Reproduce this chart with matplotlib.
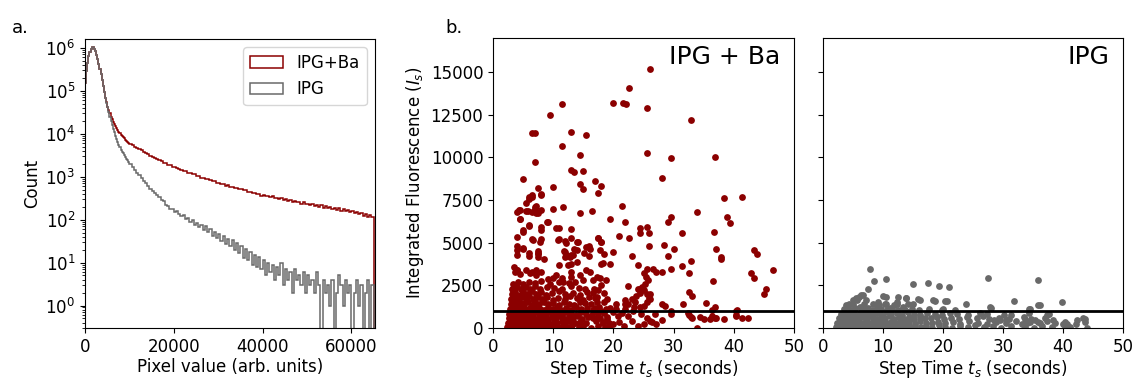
import numpy as np
import matplotlib
matplotlib.use("Agg")
import matplotlib.pyplot as plt

# ------------------------------------------------------------
# data
# ------------------------------------------------------------

# histogram bins: 250 wide up to 10000, then 500 wide up to 65000
bin_edges = np.concatenate([np.arange(0, 10000, 250), np.arange(10000, 65001, 500)])

# log10(count) per bin, IPG+Ba
ipg_ba_log = [
    5.18, 5.45, 5.65, 5.80, 5.91, 5.98, 6.02, 6.01, 5.97, 5.92,
    5.84, 5.74, 5.63, 5.51, 5.38, 5.25, 5.11, 4.97, 4.84, 4.73,
    4.63, 4.54, 4.47, 4.40, 4.34, 4.28, 4.23, 4.18, 4.13, 4.09,
    4.05, 4.02, 3.98, 3.95, 3.92, 3.89, 3.86, 3.84, 3.81, 3.79,
    3.77, 3.73, 3.70, 3.67, 3.64, 3.61, 3.58, 3.55, 3.52, 3.49,
    3.46, 3.44, 3.40, 3.38, 3.36, 3.32, 3.31, 3.27, 3.26, 3.23,
    3.22, 3.19, 3.18, 3.16, 3.13, 3.12, 3.09, 3.09, 3.05, 3.05,
    3.02, 3.01, 2.98, 2.98, 2.95, 2.94, 2.93, 2.89, 2.89, 2.86,
    2.86, 2.83, 2.83, 2.79, 2.80, 2.76, 2.77, 2.73, 2.74, 2.71,
    2.71, 2.68, 2.69, 2.65, 2.65, 2.62, 2.63, 2.59, 2.60, 2.56,
    2.58, 2.54, 2.55, 2.52, 2.54, 2.50, 2.51, 2.48, 2.50, 2.45,
    2.47, 2.44, 2.45, 2.42, 2.44, 2.40, 2.41, 2.37, 2.40, 2.36,
    2.37, 2.33, 2.36, 2.31, 2.34, 2.30, 2.33, 2.28, 2.31, 2.27,
    2.30, 2.25, 2.28, 2.23, 2.27, 2.21, 2.24, 2.19, 2.23, 2.17,
    2.21, 2.15, 2.18, 2.12, 2.16, 2.09, 2.12, 2.06, 2.10, 2.05,
]

# log10(count) per bin, IPG (None = empty bin)
ipg_log = [
    5.18, 5.45, 5.65, 5.80, 5.91, 5.98, 6.02, 6.01, 5.97, 5.92,
    5.84, 5.74, 5.63, 5.51, 5.38, 5.25, 5.11, 4.97, 4.84, 4.72,
    4.61, 4.50, 4.40, 4.30, 4.21, 4.12, 4.03, 3.95, 3.87, 3.80,
    3.74, 3.68, 3.63, 3.58, 3.54, 3.50, 3.46, 3.42, 3.38, 3.35,
    3.30, 3.22, 3.16, 3.09, 3.03, 2.97, 2.91, 2.85, 2.79, 2.72,
    2.67, 2.62, 2.57, 2.52, 2.45, 2.43, 2.33, 2.32, 2.24, 2.25,
    2.18, 2.21, 2.12, 2.08, 2.10, 2.01, 2.03, 1.95, 1.99, 1.88,
    1.92, 1.83, 1.87, 1.76, 1.84, 1.70, 1.77, 1.62, 1.72, 1.58,
    1.66, 1.50, 1.62, 1.44, 1.56, 1.38, 1.52, 1.30, 1.45, 1.22,
    1.38, 1.10, 1.32, 1.05, 1.25, 0.95, 1.18, 0.90, 1.12, 0.85,
    1.05, 0.70, 1.00, 0.78, 0.95, 0.60, 0.90, 0.70, 1.00, 0.48,
    0.85, 0.60, 0.78, 0.30, 0.85, 0.60, 0.70, 0.48, 0.78, 0.30,
    0.70, 0.48, 0.60, 0.30, 0.78, 0.48, None, 0.60, 0.30, 0.48,
    0.00, 0.60, None, 0.30, 0.70, 0.48, 0.00, 0.60, 0.30, 0.48,
    None, 0.30, 0.60, 0.00, 0.48, None, 0.30, 0.60, None, 0.48,
]

# scatter: (step time s, integrated fluorescence)
ipg_ba_points = [
    # sparse upper points
    (26.0, 15200), (22.6, 14050), (20.0, 13210), (21.6, 13210), (22.1, 13110), (11.5, 13110),
    (9.5, 12500), (25.6, 12900), (32.9, 12170), (6.4, 11430), (7.0, 11450), (13.0, 11500),
    (15.5, 11330), (11.5, 10640), (14.5, 10170), (25.5, 10250), (29.5, 9980), (36.9, 10000),
    (6.9, 9760), (13.0, 9270), (13.5, 9130), (14.9, 9210), (4.9, 8720), (17.0, 8620),
    (17.9, 8350), (28.0, 8800), (10.0, 8290), (7.4, 8230), (14.5, 8430), (14.9, 8130),
    (17.4, 7940), (7.9, 7820), (6.4, 7700), (5.9, 7570), (5.4, 7350), (38.4, 7640),
    (41.4, 7660), (21.5, 7170), (11.6, 7080), (6.9, 7110), (3.9, 6820), (4.4, 6920),
    (8.0, 6920), (10.0, 6960), (14.5, 6760), (16.4, 6860), (33.9, 6780), (38.9, 6530),
    (39.4, 6170), (29.5, 6530), (29.0, 6230), (4.4, 6390), (19.4, 6410), (8.9, 6190),
    (21.9, 6190), (5.9, 6000), (7.9, 5940), (7.9, 5740), (10.5, 5880), (11.0, 5880),
    (4.9, 5740), (12.9, 5780), (24.4, 5840), (24.4, 5550), (25.5, 5940), (25.9, 5550),
    (36.7, 5640), (31.4, 5550), (20.9, 5410), (3.9, 5330), (6.4, 5230), (7.9, 5230),
    (11.0, 5190), (12.0, 5100), (13.0, 5250), (17.5, 5250), (18.0, 5060), (22.6, 5250),
    (14.1, 5020), (15.5, 4760), (15.9, 4800), (4.9, 4680), (3.9, 4800), (25.9, 4820),
    (28.4, 4840), (30.0, 4630), (37.0, 4630), (43.4, 4570), (43.9, 4310), (4.0, 4570),
    (4.0, 4290), (5.9, 4210), (7.4, 4310), (7.4, 4140), (8.5, 4060), (12.0, 4450),
    (12.0, 4170), (13.0, 4250), (13.5, 4610), (16.0, 4210), (18.5, 4310), (20.0, 4430),
    (23.0, 4210), (29.0, 4230), (37.9, 4170), (37.9, 4060), (46.5, 3390), (11.0, 3720),
    (12.5, 3680), (13.0, 3780), (13.9, 3840), (18.0, 3780), (19.4, 3780), (24.0, 3720),
    (31.4, 3650), (32.9, 3940), (29.5, 3470), (25.5, 3470), (26.6, 3470), (27.0, 3290),
    (28.0, 3290), (32.5, 3230), (42.9, 3210), (43.4, 2940), (3.4, 3590), (3.9, 3390),
    (36.5, 2760), (45.4, 2290), (45.0, 1980), (22.5, 2450), (24.4, 2250), (24.4, 2080),
    (26.0, 2020), (32.5, 2120), (33.0, 1860), (31.5, 1430), (35.4, 1470), (36.9, 1230),
    (40.5, 1040), (42.4, 610), (41.4, 610), (40.4, 745), (38.4, 550), (37.0, 610),
    (36.1, 550), (35.0, 550), (28.0, 450), (29.5, 800), (29.5, 1000), (32.5, 745),
    (33.0, 610), (24.0, 100), (20.0, 250), (21.7, 100), (26.4, 350), (26.9, 840),
    (28.0, 1430), (28.6, 1270), (25.9, 1760), (23.4, 1230), (24.4, 1230), (21.9, 1670),
    (22.0, 1430), (20.5, 1430), (20.5, 1140), (33.9, 0), (32.4, 880), (32.9, 650),
    (34.4, 650), (36.4, 690), (36.9, 590), (40.4, 1000), (40.4, 690), (36.4, 1040),
    (25.0, 3200), (25.4, 2960), (25.7, 2810), (24.8, 2380), (24.0, 2260), (25.2, 2600),
    (24.4, 2300), (25.0, 2200), (25.5, 2000), (26.0, 1700), (25.5, 1550), (25.0, 1300),
    (23.8, 1900), (23.0, 1700), (22.5, 1400), (23.5, 1500),
    (18.5, 2050), (19.0, 1700), (19.5, 1200), (20.0, 950), (20.8, 700), (21.5, 900),
    (22.5, 700), (23.0, 400), (19.0, 500), (18.2, 300), (19.5, 150), (21.0, 350),
    (22.0, 1100), (23.2, 1000), (24.5, 800), (25.5, 600), (26.0, 400), (27.0, 250),
    (25.0, 250), (18.0, 1000), (18.5, 1500), (17.5, 2200), (18.0, 2500), (18.8, 2800),
    (17.2, 1800), (16.8, 2300), (17.0, 1200), (17.5, 700),
    # mid region
    (5.5, 3380), (6.1, 3240), (6.5, 3300), (7.2, 3400), (8.0, 3300), (7.2, 3100),
    (9.1, 2900), (10.0, 2910), (10.5, 3100), (11.5, 2910), (11.6, 2670), (13.0, 3300),
    (13.0, 3000), (13.6, 2710), (14.4, 3100), (15.0, 2810), (15.5, 3400), (16.1, 3300),
    (16.6, 2810), (17.2, 3000), (17.8, 2910), (4.5, 3140), (3.7, 3300), (4.0, 3400),
    (18.2, 3790), (16.1, 4610), (17.7, 4570), (15.1, 4380), (13.9, 4590), (9.1, 6220),
    (4.5, 6380), (6.0, 6040), (5.0, 5650), (6.6, 5160), (7.8, 5060), (10.8, 5160),
    (12.1, 4960), (14.0, 5060), (17.4, 5300), (17.9, 5060), (5.0, 4610), (6.0, 4420),
    (7.5, 4510), (7.5, 4380), (11.8, 4530), (12.1, 4280), (12.8, 4180), (13.3, 4280),
    (4.3, 6920), (5.4, 6880), (5.8, 6830), (6.5, 6790), (7.1, 6770), (7.1, 7160),
    (6.9, 7000), (7.4, 6730), (8.0, 7830), (6.5, 7790), (6.0, 7670),
    # dense cloud
    (2.3, 60), (2.8, 150), (3.2, 40), (3.7, 180), (4.1, 90), (4.6, 20), (5.2, 160),
    (5.7, 70), (6.3, 130), (6.8, 30), (7.4, 190), (8.0, 80), (8.6, 140), (9.1, 20),
    (9.7, 110), (10.4, 170), (11.0, 50), (11.7, 120), (12.5, 30), (13.1, 160),
    (14.2, 60), (15.0, 130), (16.3, 20), (17.5, 90), (18.6, 40),
    (2.5, 300), (3.0, 420), (3.5, 270), (3.9, 380), (4.4, 310), (4.9, 440), (5.4, 260),
    (6.0, 400), (6.6, 330), (7.1, 250), (7.7, 420), (8.3, 300), (8.9, 380), (9.5, 260),
    (10.1, 430), (10.7, 320), (11.4, 390), (12.0, 270), (12.8, 410), (13.6, 300),
    (14.4, 360), (15.4, 280), (17.1, 420), (18.2, 330), (19.3, 280),
    (2.6, 560), (3.1, 650), (3.6, 520), (4.0, 690), (4.5, 590), (5.0, 510), (5.6, 670),
    (6.2, 560), (6.7, 640), (7.3, 530), (7.9, 690), (8.5, 580), (9.2, 510), (9.8, 660),
    (10.5, 570), (11.1, 690), (11.9, 530), (12.6, 620), (13.3, 560), (14.1, 680),
    (14.8, 520), (15.7, 640), (16.6, 570), (17.8, 610), (19.0, 660),
    (2.7, 800), (3.2, 900), (3.7, 760), (4.3, 930), (4.8, 820), (5.3, 760), (5.9, 910),
    (6.4, 840), (7.0, 950), (7.6, 780), (8.2, 880), (8.8, 760), (9.4, 930), (10.0, 820),
    (10.8, 900), (11.5, 770), (12.2, 940), (13.0, 830), (13.8, 780), (14.6, 910),
    (15.5, 840), (16.4, 770), (17.3, 920), (18.4, 850),
    (2.8, 1100), (3.3, 1220), (3.8, 1060), (4.4, 1180), (4.9, 1250), (5.5, 1090),
    (6.1, 1200), (6.7, 1070), (7.3, 1240), (7.8, 1130), (8.5, 1060), (9.1, 1210),
    (9.9, 1120), (10.6, 1250), (11.3, 1080), (12.1, 1190), (12.9, 1050), (13.7, 1230),
    (14.6, 1110), (15.6, 1180), (16.6, 1060), (17.6, 1220), (18.8, 1140),
    (2.9, 1400), (3.4, 1520), (4.0, 1360), (4.6, 1490), (5.2, 1420), (5.8, 1550),
    (6.4, 1370), (7.0, 1500), (7.7, 1410), (8.4, 1540), (9.2, 1380), (10.0, 1470),
    (10.9, 1350), (11.8, 1530), (12.7, 1430), (13.5, 1360), (14.4, 1510), (15.3, 1440),
    (16.2, 1380), (17.2, 1520),
    (3.0, 1700), (3.6, 1820), (4.2, 1660), (4.8, 1790), (5.4, 1720), (6.0, 1850),
    (6.7, 1680), (7.4, 1800), (8.2, 1700), (9.0, 1830), (9.9, 1650), (10.8, 1780),
    (11.9, 1700), (12.8, 1850), (13.9, 1730), (15.0, 1670), (16.0, 1820), (17.0, 1750),
    (3.1, 2000), (3.7, 2120), (4.4, 1960), (5.0, 2090), (5.7, 2010), (6.4, 2150),
    (7.1, 1980), (7.9, 2100), (8.8, 1950), (9.8, 2060), (10.9, 2140), (12.0, 1990),
    (13.2, 2080), (14.5, 1960), (15.6, 2110), (16.6, 2030),
    (3.2, 2300), (3.9, 2420), (4.7, 2270), (5.4, 2390), (6.2, 2310), (7.0, 2450),
    (7.8, 2280), (8.9, 2400), (10.2, 2330), (11.5, 2260), (13.0, 2440), (14.2, 2350),
    (15.3, 2290),
    (3.3, 2600), (4.1, 2720), (5.0, 2570), (5.9, 2690), (6.9, 2620), (8.0, 2750),
    (9.5, 2580), (11.0, 2700), (12.6, 2640),
]

ipg_points = [
    # sparse upper points
    (7.9, 3430), (8.5, 2740), (10.5, 2880), (7.5, 2270), (15.0, 2570), (17.5, 2650),
    (19.4, 2470), (21.0, 2410), (27.5, 2940), (35.9, 2840), (39.9, 1530), (31.9, 1570),
    (23.9, 1430), (20.4, 1570), (18.4, 1630), (15.9, 1690), (13.9, 1760), (12.5, 1820),
    (12.4, 1530), (10.5, 1390), (10.5, 1820), (10.0, 1860), (6.4, 1920), (5.5, 1760),
    (5.0, 1630), (35.9, 1330), (34.4, 1140), (27.9, 1230), (15.0, 1390), (6.6, 1920),
    (6.0, 1820), (5.6, 1630), (5.0, 1430), (4.4, 1430), (3.9, 1340), (7.2, 1630),
    (6.9, 1430), (8.3, 1430), (9.2, 1530), (9.4, 1340), (10.3, 1430), (13.9, 1730),
    (14.2, 1430), (16.1, 1670), (18.6, 1590), (20.6, 1590), (20.0, 1140), (11.1, 1200),
    (11.9, 1340), (13.3, 1240), (12.3, 1430), (28.0, 1180), (36.1, 1340), (34.5, 1120),
    (28.5, 450), (29.5, 450), (30.5, 450), (31.4, 750), (33.1, 260), (33.7, 550),
    (34.5, 350), (35.3, 450), (36.2, 300), (37.6, 800), (38.4, 450), (40.0, 260),
    (40.6, 260), (42.3, 450), (43.7, 550), (44.0, 20),
    # dense band
    (2.2, 80), (2.7, 30), (3.1, 150), (3.6, 60), (4.0, 120), (4.5, 20), (5.0, 170),
    (5.5, 60), (6.0, 110), (6.5, 30), (7.1, 150), (7.6, 70), (8.2, 20), (8.8, 140),
    (9.4, 60), (10.0, 180), (10.7, 40), (11.4, 120), (12.1, 20), (12.9, 160), (13.7, 70),
    (14.5, 30), (15.4, 140), (16.3, 50), (17.2, 110), (18.2, 20), (19.3, 150),
    (20.4, 60), (21.5, 20), (22.8, 130), (24.1, 40), (25.4, 160), (26.8, 30),
    (28.3, 100), (29.7, 20), (31.4, 140), (33.7, 60), (35.2, 20), (36.5, 120),
    (38.1, 40), (40.3, 90), (41.2, 30),
    (2.4, 300), (2.9, 400), (3.3, 260), (3.8, 370), (4.3, 290), (4.8, 430), (5.3, 270),
    (5.8, 390), (6.3, 320), (6.9, 250), (7.4, 410), (8.0, 290), (8.6, 360), (9.2, 260),
    (9.9, 420), (10.6, 310), (11.3, 380), (12.0, 270), (12.8, 400), (13.6, 300),
    (14.4, 350), (15.3, 260), (16.2, 410), (17.1, 320), (18.1, 270), (19.2, 380),
    (20.3, 290), (21.6, 360), (22.9, 250), (24.3, 410), (25.8, 300), (27.3, 260),
    (28.9, 370), (30.5, 280), (32.2, 400), (34.0, 270), (35.9, 330), (37.3, 390),
    (38.6, 300), (40.4, 340), (42.1, 260), (43.6, 380),
    (2.6, 560), (3.0, 650), (3.5, 520), (4.0, 690), (4.5, 580), (5.0, 520), (5.5, 660),
    (6.0, 560), (6.6, 630), (7.2, 520), (7.8, 680), (8.4, 570), (9.0, 510), (9.7, 650),
    (10.4, 560), (11.1, 690), (11.9, 530), (12.7, 620), (13.5, 550), (14.3, 670),
    (15.2, 520), (16.1, 640), (17.0, 560), (18.0, 610), (19.0, 660), (20.1, 540),
    (21.4, 600), (22.6, 520), (24.0, 650), (25.6, 560), (26.6, 690), (27.7, 530),
    (29.4, 600), (31.0, 540), (33.5, 620), (34.6, 520), (37.0, 600), (43.3, 560),
    (3.0, 800), (3.5, 900), (4.0, 760), (4.6, 930), (5.2, 820), (5.8, 760), (6.4, 910),
    (7.0, 840), (7.6, 950), (8.3, 780), (9.0, 880), (9.8, 760), (10.6, 920), (11.4, 820),
    (12.3, 900), (13.2, 770), (14.1, 930), (15.1, 830), (16.2, 780), (17.4, 900),
    (18.7, 820), (19.8, 770), (21.1, 880), (22.3, 800), (24.2, 760), (26.1, 880),
    (27.4, 820), (30.1, 760), (34.4, 850), (37.3, 770),
    (3.5, 1100), (4.1, 1220), (4.8, 1060), (5.4, 1180), (6.1, 1250), (6.8, 1090),
    (7.5, 1200), (8.2, 1070), (9.0, 1240), (9.7, 1130), (10.6, 1060), (11.5, 1110),
    (12.5, 1080), (13.6, 1050), (14.8, 1120), (16.0, 1060), (17.6, 1100), (19.8, 1050),
    (22.0, 1080),
]

# ------------------------------------------------------------
# style
# ------------------------------------------------------------

plt.rcParams.update({
    "font.family": "DejaVu Sans",
    "font.size": 12,
    "xtick.labelsize": 12,
    "ytick.labelsize": 12,
    "axes.labelsize": 12,
    "legend.fontsize": 12,
    "axes.labelpad": 1.5,
})

COLOR_BA = "#8B0000"
COLOR_IPG = "#696969"

# ------------------------------------------------------------
# figure
# ------------------------------------------------------------

fig = plt.figure(figsize=(11.35, 3.79), dpi=100)
ax_a = fig.add_axes([0.0749, 0.1346, 0.2555, 0.7625])
ax_b1 = fig.add_axes([0.4344, 0.1346, 0.2652, 0.7651])
ax_b2 = fig.add_axes([0.7251, 0.1346, 0.2643, 0.7651], sharey=ax_b1)

# ---- panel a: pixel histograms ----
centers = 0.5 * (bin_edges[:-1] + bin_edges[1:])
ba_counts = np.array([10 ** v for v in ipg_ba_log])
ipg_counts = np.array([0.0 if v is None else 10 ** v for v in ipg_log])

ax_a.set_yscale("log")
ax_a.hist(centers, bins=bin_edges, weights=ba_counts, histtype="step",
          color=COLOR_BA, linewidth=1.1, label="IPG+Ba")
ax_a.hist(centers, bins=bin_edges, weights=ipg_counts, histtype="step",
          color=COLOR_IPG, linewidth=1.1, label="IPG")
ax_a.set_xlim(0, 65300)
ax_a.set_ylim(0.3, 1.6e6)
ax_a.set_xticks([0, 20000, 40000, 60000])
ax_a.set_xlabel("Pixel value (arb. units)")
ax_a.set_ylabel("Count", labelpad=3)
ax_a.legend(loc="upper right")

# ---- panel b: scatter ----
ba = np.array(ipg_ba_points)
ip = np.array(ipg_points)

ax_b1.scatter(ba[:, 0], ba[:, 1], s=24, color=COLOR_BA, linewidths=0)
ax_b2.scatter(ip[:, 0], ip[:, 1], s=24, color=COLOR_IPG, linewidths=0)

for ax, name in [(ax_b1, "IPG + Ba"), (ax_b2, "IPG")]:
    ax.axhline(1000, color="black", linewidth=2)
    ax.set_xlim(0, 50)
    ax.set_ylim(0, 17000)
    ax.set_xticks([0, 10, 20, 30, 40, 50])
    ax.set_yticks([0, 2500, 5000, 7500, 10000, 12500, 15000])
    ax.set_xlabel("Step Time $t_s$ (seconds)")
    ax.text(0.955, 0.975, name, transform=ax.transAxes, ha="right", va="top",
            fontsize=18)

ax_b1.set_ylabel("Integrated Fluorescence ($I_s$)", labelpad=3)
plt.setp(ax_b2.get_yticklabels(), visible=False)

fig.text(12 / 1135, 1 - 33 / 379, "a.", fontsize=13)
fig.text(445 / 1135, 1 - 33 / 379, "b.", fontsize=13)

fig.savefig("out.png", dpi=100)
